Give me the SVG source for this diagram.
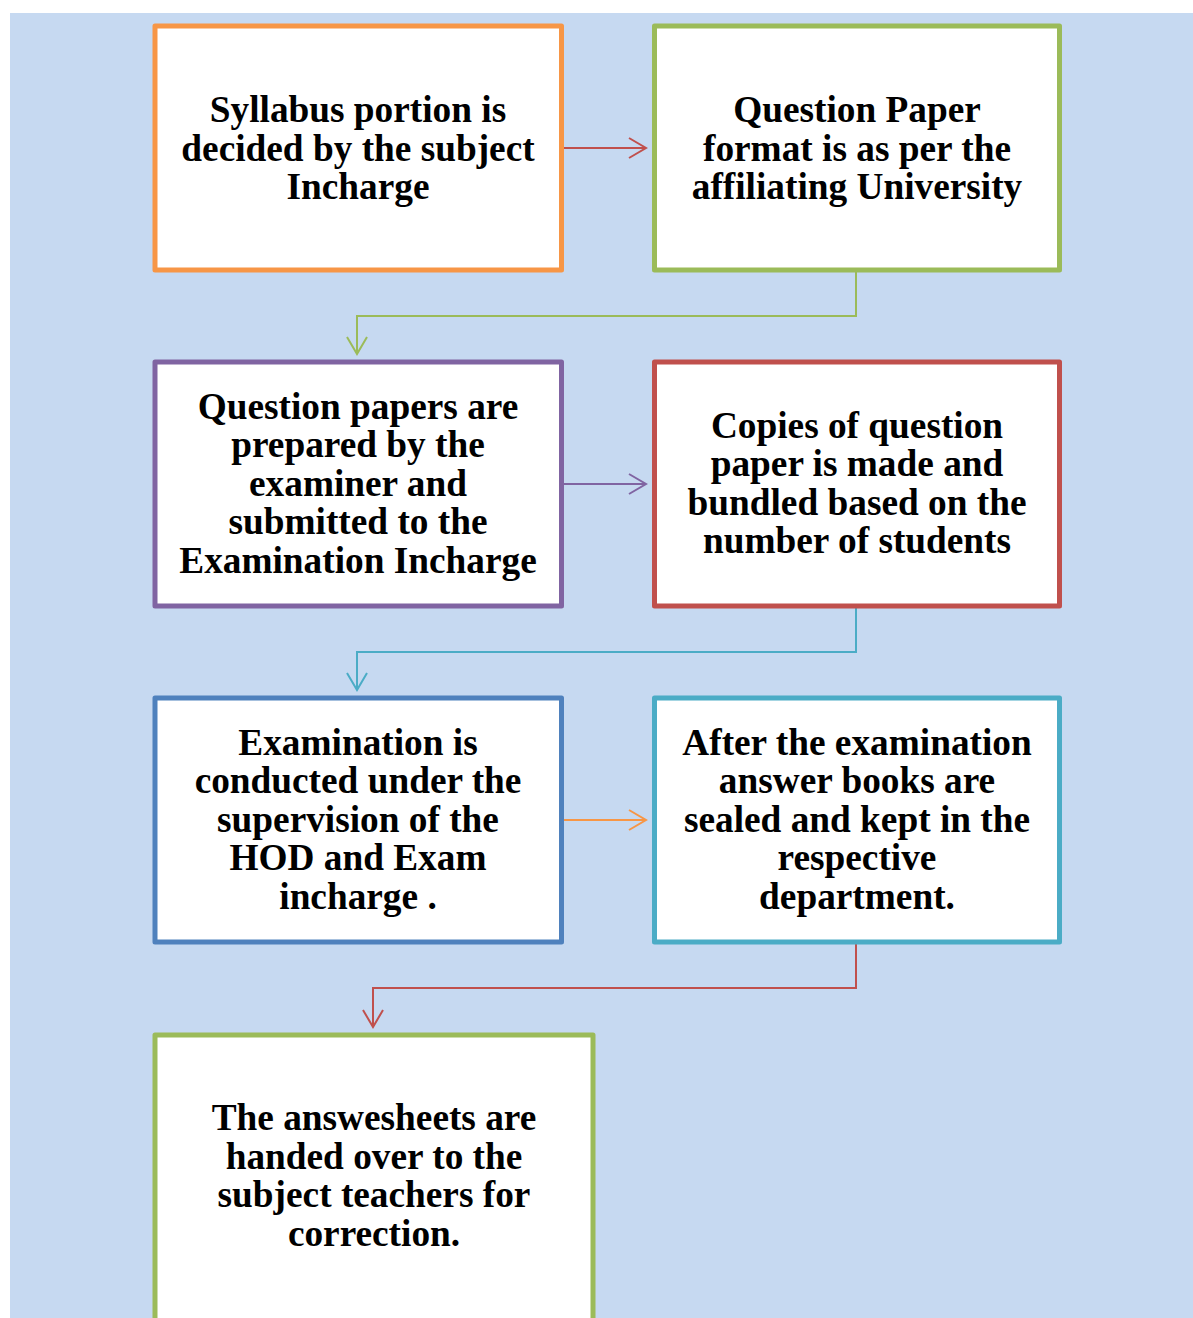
<svg xmlns="http://www.w3.org/2000/svg" width="1193" height="1318" viewBox="0 0 1193 1318">
<style>
.box{fill:#FFFFFF;stroke-width:5;stroke-linejoin:round}
.t{font-family:"Liberation Serif","Times New Roman",serif;font-weight:bold;font-size:37.3px;text-anchor:middle;fill:#000}
.c{fill:none;stroke-width:2}
</style>
<defs>
<marker id="aR" markerUnits="userSpaceOnUse" markerWidth="24" markerHeight="24" viewBox="-20 -12 24 24" refX="0" refY="0" orient="auto"><path d="M-17,-10 L0,0 L-17,10" fill="none" stroke="#C0504D" stroke-width="2"/></marker>
<marker id="aG" markerUnits="userSpaceOnUse" markerWidth="24" markerHeight="24" viewBox="-20 -12 24 24" refX="0" refY="0" orient="auto"><path d="M-17,-10 L0,0 L-17,10" fill="none" stroke="#9BBB59" stroke-width="2"/></marker>
<marker id="aP" markerUnits="userSpaceOnUse" markerWidth="24" markerHeight="24" viewBox="-20 -12 24 24" refX="0" refY="0" orient="auto"><path d="M-17,-10 L0,0 L-17,10" fill="none" stroke="#8064A2" stroke-width="2"/></marker>
<marker id="aC" markerUnits="userSpaceOnUse" markerWidth="24" markerHeight="24" viewBox="-20 -12 24 24" refX="0" refY="0" orient="auto"><path d="M-17,-10 L0,0 L-17,10" fill="none" stroke="#4BACC6" stroke-width="2"/></marker>
<marker id="aO" markerUnits="userSpaceOnUse" markerWidth="24" markerHeight="24" viewBox="-20 -12 24 24" refX="0" refY="0" orient="auto"><path d="M-17,-10 L0,0 L-17,10" fill="none" stroke="#F79646" stroke-width="2"/></marker>
</defs>
<rect x="10" y="13" width="1183" height="1305" fill="#C6D9F1"/>
<g id="connectors">
<path class="c" stroke="#C0504D" d="M564,148 H646" marker-end="url(#aR)"/>
<path class="c" stroke="#9BBB59" d="M856,272 V316 H357 V354" marker-end="url(#aG)"/>
<path class="c" stroke="#8064A2" d="M564,484 H646" marker-end="url(#aP)"/>
<path class="c" stroke="#4BACC6" d="M856,608 V652 H357 V690" marker-end="url(#aC)"/>
<path class="c" stroke="#F79646" d="M564,820 H646" marker-end="url(#aO)"/>
<path class="c" stroke="#C0504D" d="M856,944 V988 H373 V1027" marker-end="url(#aR)"/>
</g>
<g id="n1">
<rect class="box" x="155" y="26" width="406.5" height="244" stroke="#F79646"/>
<text class="t" x="358"><tspan x="358" y="122">Syllabus portion is</tspan><tspan x="358" y="160.6">decided by the subject</tspan><tspan x="358" y="199.2">Incharge</tspan></text>
</g>
<g id="n2">
<rect class="box" x="654.5" y="26" width="405" height="244" stroke="#9BBB59"/>
<text class="t" x="857"><tspan x="857" y="122">Question Paper</tspan><tspan x="857" y="160.6">format is as per the</tspan><tspan x="857" y="199.2">affiliating University</tspan></text>
</g>
<g id="n3">
<rect class="box" x="155" y="362" width="406.5" height="244" stroke="#8064A2"/>
<text class="t" x="358"><tspan x="358" y="418.5">Question papers are</tspan><tspan x="358" y="457.1">prepared by the</tspan><tspan x="358" y="495.7">examiner and</tspan><tspan x="358" y="534.3">submitted to the</tspan><tspan x="358" y="572.9">Examination Incharge</tspan></text>
</g>
<g id="n4">
<rect class="box" x="654.5" y="362" width="405" height="244" stroke="#C0504D"/>
<text class="t" x="857"><tspan x="857" y="437.5">Copies of question</tspan><tspan x="857" y="476.1">paper is made and</tspan><tspan x="857" y="514.7">bundled based on the</tspan><tspan x="857" y="553.3">number of students</tspan></text>
</g>
<g id="n5">
<rect class="box" x="155" y="698" width="406.5" height="244" stroke="#4F81BD"/>
<text class="t" x="358"><tspan x="358" y="754.5">Examination is</tspan><tspan x="358" y="793.1">conducted under the</tspan><tspan x="358" y="831.7">supervision of the</tspan><tspan x="358" y="870.3">HOD and Exam</tspan><tspan x="358" y="908.9">incharge .</tspan></text>
</g>
<g id="n6">
<rect class="box" x="654.5" y="698" width="405" height="244" stroke="#4BACC6"/>
<text class="t" x="857"><tspan x="857" y="754.5">After the examination</tspan><tspan x="857" y="793.1">answer books are</tspan><tspan x="857" y="831.7">sealed and kept in the</tspan><tspan x="857" y="870.3">respective</tspan><tspan x="857" y="908.9">department.</tspan></text>
</g>
<g id="n7">
<rect class="box" x="155" y="1035" width="438" height="300" stroke="#9BBB59"/>
<text class="t" x="374"><tspan x="374" y="1130">The answesheets are</tspan><tspan x="374" y="1168.6">handed over to the</tspan><tspan x="374" y="1207.2">subject teachers for</tspan><tspan x="374" y="1245.8">correction.</tspan></text>
</g>
</svg>
